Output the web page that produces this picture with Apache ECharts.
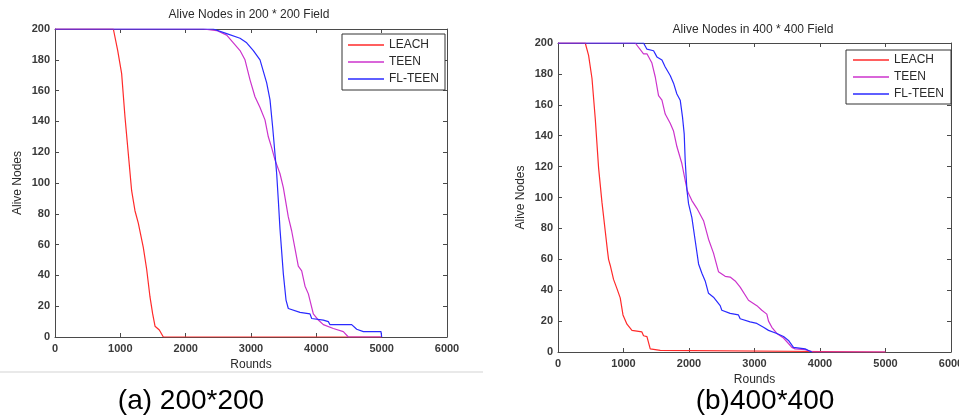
<!DOCTYPE html>
<html>
<head>
<meta charset="utf-8">
<script src="https://cdn.jsdelivr.net/npm/echarts@6/dist/echarts.min.js"></script>
<style>html,body{margin:0;padding:0;background:#fff;}#c{width:959px;height:419px;}</style>
</head>
<body>
<div id="c"></div>
<script>
// ---- Data: [round, alive nodes] ----
const seriesNames = ['LEACH', 'TEEN', 'FL-TEEN'];
const xTicks = [0, 1000, 2000, 3000, 4000, 5000, 6000];
const yTicks = [0, 20, 40, 60, 80, 100, 120, 140, 160, 180, 200];

// (a) 200*200 field
const leach200 = [[0,200],[893,200],[960,186],[1020,171],[1071,143],[1122,119],[1173,95],[1224,82],[1275,74],[1352,58],[1403,44],[1454,26],[1495,15],[1531,7],[1597,4.5],[1658,0],[5000,0]];
const teen200 = [[0,200],[2270,200],[2475,199],[2628,196],[2730,191],[2832,186],[2908,180],[2985,167],[3061,156],[3138,149],[3214,141],[3265,130],[3316,123],[3367,115],[3444,106],[3495,97],[3571,78],[3622,69],[3724,46],[3776,43],[3827,33],[3878,28],[3954,15],[4031,11],[4107,8],[4260,5.5],[4413,3.5],[4490,0],[5000,0]];
const flteen200 = [[0,200],[2423,200],[2628,197],[2832,194],[2934,191],[3036,186],[3138,180],[3240,165],[3291,154],[3332,136],[3367,119],[3393,106],[3418,89],[3444,70],[3495,41],[3536,24],[3571,18.5],[3750,16],[3903,15],[3929,12],[4107,11],[4184,10],[4209,8],[4541,8],[4618,5],[4720,3.5],[4990,3.5],[5000,0]];

// (b) 400*400 field
const leach400 = [[0,200],[416,200],[467,192],[519,177],[569,151],[620,119],[671,97],[722,78],[757,65],[772,60],[798,56],[848,47],[900,41],[950,35],[992,24],[1053,18],[1129,14],[1281,13],[1306,10.5],[1358,10],[1408,2],[1561,1],[1576,0],[5000,0]];
const teen400 = [[0,200],[1179,200],[1306,193],[1358,193],[1434,187],[1485,178],[1535,166],[1587,163],[1637,154],[1713,148],[1764,143],[1815,133],[1891,122],[1942,111],[1977,104],[2044,98],[2120,93],[2222,85],[2298,73],[2374,64],[2450,52],[2552,49],[2628,48.5],[2705,46],[2781,42],[2908,33.5],[3036,30],[3112,27],[3188,24.5],[3214,20],[3265,16],[3341,12],[3443,9],[3519,5.5],[3570,3],[3620,2],[3773,1.5],[3899,0],[5000,0]];
const flteen400 = [[0,200],[1306,200],[1358,196],[1459,195],[1510,191],[1587,189],[1637,184.5],[1713,179],[1764,174],[1815,167],[1866,163],[1901,152],[1927,141],[1942,124],[1968,105],[1993,96],[2044,87],[2095,72],[2146,57],[2197,51],[2247,46],[2298,38],[2374,35.5],[2476,30],[2501,27],[2628,25],[2755,24],[2781,21.5],[2933,19.5],[3036,18.5],[3137,16],[3214,14],[3341,12],[3443,10],[3519,7.5],[3595,3],[3773,2],[3824,1],[3875,0]];

const chartTitles = ['Alive Nodes in 200 * 200 Field', 'Alive Nodes in 400 * 400 Field'];
const captions = ['(a) 200*200', '(b)400*400'];
const xName = 'Rounds';
const yName = 'Alive Nodes';

// ---- Styling ----
const colors = ['#ff2a2a', '#cc33cc', '#2a2aff'];
const FONT = 'Liberation Sans, Arial, Helvetica, sans-serif';
const axisColor = '#4a4a4a';
const labelColor = '#2a2a2a';
const tickColor = '#3a3a3a';

function xAx(grid, pos) {
  const main = pos === 'bottom';
  return {
    type: 'value', gridIndex: grid, position: pos, min: xTicks[0], max: xTicks[xTicks.length-1], interval: 1000,
    name: main ? xName : '', nameLocation: 'middle', nameGap: 20,
    nameTextStyle: { color: labelColor, fontSize: 12, fontFamily: FONT },
    axisLine: { show: true, onZero: false, lineStyle: { color: axisColor, width: 1 } },
    axisTick: { show: true, inside: true, length: 4, lineStyle: { color: axisColor } },
    axisLabel: { show: main, color: tickColor, fontSize: 11, fontWeight: 'bold', fontFamily: FONT, margin: 6,
      hideOverlap: false, showMaxLabel: true, showMinLabel: true, formatter: function (v) { return String(v); } },
    splitLine: { show: false }
  };
}
function yAx(grid, pos) {
  const main = pos === 'left';
  return {
    type: 'value', gridIndex: grid, position: pos, min: yTicks[0], max: yTicks[yTicks.length-1], interval: 20,
    name: main ? yName : '', nameLocation: 'middle', nameGap: 31, nameRotate: 90,
    nameTextStyle: { color: labelColor, fontSize: 12, fontFamily: FONT },
    axisLine: { show: true, onZero: false, lineStyle: { color: axisColor, width: 1 } },
    axisTick: { show: true, inside: true, length: 4, lineStyle: { color: axisColor } },
    axisLabel: { show: main, color: tickColor, fontSize: 11, fontWeight: 'bold', fontFamily: FONT, margin: 5,
      formatter: function (v) { return String(v); } },
    splitLine: { show: false }
  };
}

const data = [[leach200, teen200, flteen200], [leach400, teen400, flteen400]];
const series = [];
data.forEach((set, g) => {
  set.forEach((d, i) => {
    series.push({
      name: seriesNames[i], type: 'line', data: d,
      xAxisIndex: g * 2, yAxisIndex: g * 2,
      symbol: 'none', showSymbol: false,
      lineStyle: { color: colors[i], width: 1.2 },
      itemStyle: { color: colors[i] },
      z: 2 + i
    });
  });
});

function legend(left, top, padding) {
  return {
    data: seriesNames.map(n => ({ name: n, icon: 'rect' })), orient: 'vertical', left: left, top: top,
    backgroundColor: '#fff', borderColor: '#333', borderWidth: 1, padding: padding,
    itemGap: 5, itemWidth: 36, itemHeight: 1.5, selectedMode: false,
    textStyle: { color: labelColor, fontSize: 12, fontFamily: FONT, lineHeight: 12 }
  };
}

const option = {
  animation: false,
  backgroundColor: '#fff',
  grid: [
    { left: 55, top: 29, width: 392, height: 308, outerBoundsMode: 'none', containLabel: false },
    { left: 558, top: 43, width: 393, height: 309, outerBoundsMode: 'none', containLabel: false }
  ],
  xAxis: [xAx(0, 'bottom'), xAx(0, 'top'), xAx(1, 'bottom'), xAx(1, 'top')],
  yAxis: [yAx(0, 'left'), yAx(0, 'right'), yAx(1, 'left'), yAx(1, 'right')],
  legend: [legend(342, 34, [5, 6, 5, 6]), legend(846, 50, [4, 7, 4, 7])],
  series: series,
  graphic: [
    { type: 'text', x: 249, y: 15, style: { text: chartTitles[0], fill: labelColor, font: '12px ' + FONT, align: 'center', verticalAlign: 'middle' } },
    { type: 'text', x: 753, y: 30, style: { text: chartTitles[1], fill: labelColor, font: '12px ' + FONT, align: 'center', verticalAlign: 'middle' } },
    { type: 'line', shape: { x1: 0, y1: 372, x2: 483, y2: 372 }, style: { stroke: '#e2e2e2', lineWidth: 1.5 } },
    { type: 'text', x: 191, y: 401.5, style: { text: captions[0], fill: '#000', font: '28px ' + FONT, align: 'center', verticalAlign: 'middle' } },
    { type: 'text', x: 765, y: 401.5, style: { text: captions[1], fill: '#000', font: '28px ' + FONT, align: 'center', verticalAlign: 'middle' } }
  ]
};

const chart = echarts.init(document.getElementById('c'), null, { renderer: 'canvas' });
chart.setOption(option);
</script>
</body>
</html>
